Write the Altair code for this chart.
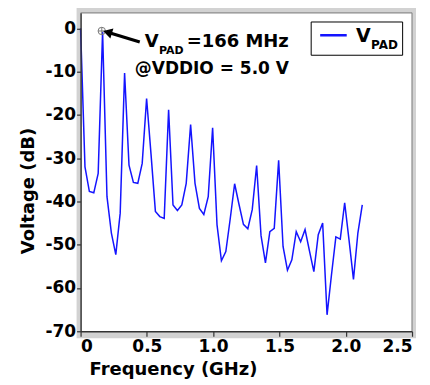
import altair as alt
import pandas as pd

# Frequency grid (GHz) and measured pad voltage spectrum (dB)
freq_ghz = [0.0, 0.0332, 0.0664, 0.0996, 0.1328, 0.166, 0.1992, 0.2324, 0.2656, 0.2988,
            0.332, 0.3652, 0.3984, 0.4316, 0.4648, 0.498, 0.5312, 0.5644, 0.5976, 0.6308,
            0.664, 0.6972, 0.7304, 0.7636, 0.7968, 0.83, 0.8632, 0.8964, 0.9296, 0.9628,
            0.996, 1.0292, 1.0624, 1.0956, 1.1288, 1.162, 1.1952, 1.2284, 1.2616, 1.2948,
            1.328, 1.3612, 1.3944, 1.4276, 1.4608, 1.494, 1.5272, 1.5604, 1.5936, 1.6268,
            1.66, 1.6932, 1.7264, 1.7596, 1.7928, 1.826, 1.8592, 1.8924, 1.9256, 1.9588,
            1.992, 2.0252, 2.0584, 2.0916, 2.1248]
voltage_db = [0, -32, -37.7, -38, -33.5, -0.8, -38.9, -47.3, -52.3, -42.7,
              -10.3, -31.6, -35.6, -35.8, -31.2, -16.2, -29, -42.3, -43.5, -43.9,
              -18.8, -40.8, -42.1, -40.8, -35.8, -22.2, -35.8, -41.6, -43, -38.9,
              -23, -45.4, -53.7, -51.6, -44, -35.9, -40.7, -45.3, -46.3, -41.9,
              -31.7, -47.9, -54.2, -47, -46.2, -30.5, -50.4, -55.9, -53.5, -47,
              -49.3, -46.5, -51.4, -56.2, -47.7, -45, -66.2, -57, -48.2, -48.7,
              -40.3, -49, -58, -47.3, -40.8]

marker_f = [0.16]
marker_v = [-0.6]

x_ticks = [0, 0.5, 1.0, 1.5, 2.0, 2.5]
y_ticks = [-70, -60, -50, -40, -30, -20, -10, 0]

W, H = 332, 319
FONT = "DejaVu Sans"
BLUE = "#1414ff"

df = pd.DataFrame({"f": freq_ghz, "v": voltage_db})
mk = pd.DataFrame({"f": marker_f, "v": marker_v})
one = pd.DataFrame({"a": [0]})

xscale = alt.Scale(domain=[0, 2.5], nice=False, zero=False)
yscale = alt.Scale(domain=[-70, 3.6], nice=False, zero=False)

xaxis = alt.Axis(values=x_ticks,
                 labelExpr="datum.value == 0 ? '0' : format(datum.value, '.1f')",
                 title="Frequency (GHz)", titleX=92.6, titleY=43,
                 titleAlign="center", titleBaseline="alphabetic",
                 grid=False, tickSize=5, labelPadding=2, zindex=1)
yaxis = alt.Axis(values=y_ticks, labelExpr="'' + datum.value",
                 title="Voltage (dB)", titleAngle=270, titleX=-47, titleY=178,
                 titleAlign="center", titleBaseline="alphabetic",
                 grid=False, tickSize=4, labelPadding=1, zindex=1)

# background frame
gray = alt.Chart(one).mark_rect(color="#d2d2d2").encode(
    x=alt.value(-4), x2=alt.value(W + 4), y=alt.value(-5.5), y2=alt.value(H + 7))
white = alt.Chart(one).mark_rect(color="white").encode(
    x=alt.value(0), x2=alt.value(W), y=alt.value(0), y2=alt.value(H))
top_rule = alt.Chart(one).mark_rule(color="#8a8a8a", strokeWidth=1.2).encode(
    x=alt.value(0), x2=alt.value(W), y=alt.value(0))
right_rule = alt.Chart(one).mark_rule(color="#8a8a8a", strokeWidth=1.2).encode(
    x=alt.value(W), y=alt.value(0), y2=alt.value(H))

line = alt.Chart(df).mark_line(color=BLUE, strokeWidth=1.5).encode(
    x=alt.X("f:Q", scale=xscale, axis=xaxis),
    y=alt.Y("v:Q", scale=yscale, axis=yaxis),
)

circ = alt.Chart(mk).mark_point(shape="circle", size=55, filled=False,
                                stroke="#777777", strokeWidth=1, opacity=1).encode(
    x=alt.X("f:Q", scale=xscale), y=alt.Y("v:Q", scale=yscale))
cross = alt.Chart(mk).mark_point(shape="M-1,0L1,0M0,-1L0,1", size=55, filled=False,
                                 stroke="#777777", strokeWidth=1, opacity=1).encode(
    x=alt.X("f:Q", scale=xscale), y=alt.Y("v:Q", scale=yscale))

shaft = alt.Chart(one).mark_rule(color="black", strokeWidth=3.2).encode(
    x=alt.value(59.3), y=alt.value(29.2), x2=alt.value(28), y2=alt.value(19.8))
head = alt.Chart(one).mark_point(shape="triangle-up", filled=True, color="black",
                                 size=110, angle=287, opacity=1).encode(
    x=alt.value(27), y=alt.value(19.5))

def txt(s, x, y, size):
    return alt.Chart(one).mark_text(text=s, font=FONT, fontWeight="bold", fontSize=size,
                                    align="left", baseline="alphabetic", color="black").encode(
        x=alt.value(x), y=alt.value(y))

ann = [
    txt("V", 64.3, 34.2, 18),
    txt("PAD", 78.6, 40.8, 11),
    txt("=166 MHz", 106.3, 34.2, 18),
    txt("@VDDIO = 5.0 V", 54.3, 61.5, 17),
]

leg_box = alt.Chart(one).mark_rect(fill="white", stroke="black", strokeWidth=1).encode(
    x=alt.value(231), x2=alt.value(322.6), y=alt.value(9.2), y2=alt.value(42.5))
leg_line = alt.Chart(one).mark_rule(color=BLUE, strokeWidth=2.5).encode(
    x=alt.value(240), x2=alt.value(266.6), y=alt.value(22.5))
leg_txt = [txt("V", 276, 29.2, 19), txt("PAD", 291, 35.8, 12)]

chart = alt.layer(gray, white, top_rule, right_rule, line, circ, cross, shaft, head,
                  *ann, leg_box, leg_line, *leg_txt).properties(
    width=W, height=H,
    autosize=alt.AutoSizeParams(type="none"),
    padding={"left": 72.7, "top": 4.5, "right": 10, "bottom": 50},
).configure_view(stroke=None).configure_axis(
    labelFont=FONT, titleFont=FONT, labelFontWeight="bold", titleFontWeight="bold",
    labelFontSize=17, titleFontSize=18, labelColor="black", titleColor="black",
    domainColor="#333333", domainWidth=1.5, tickColor="#333333", tickWidth=1.2,
)

chart.save("out.html", embed_options={"renderer": "svg", "actions": False})
